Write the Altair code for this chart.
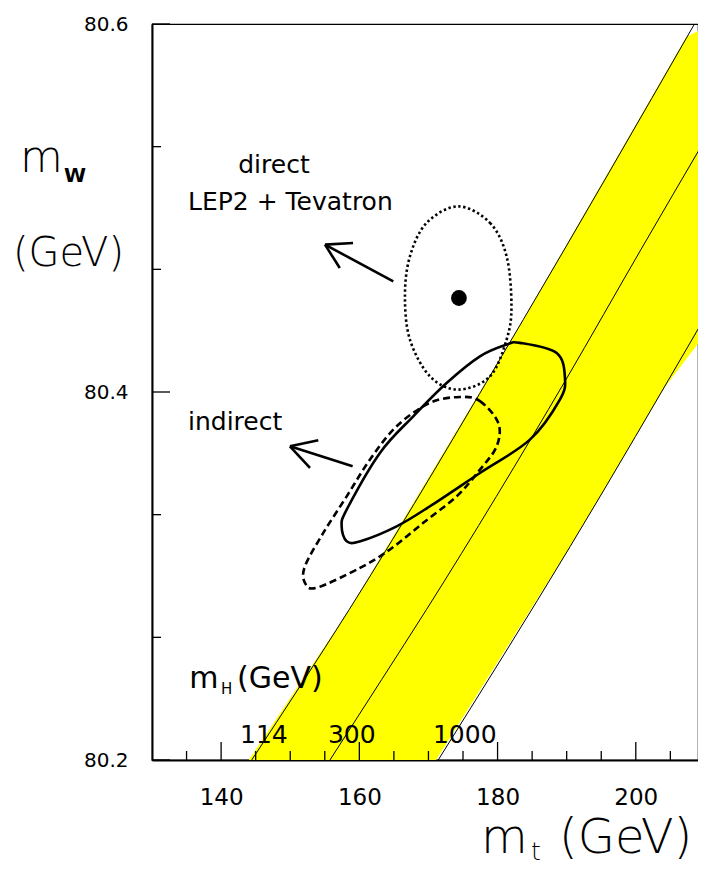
import altair as alt
import pandas as pd

# ---- data ----
# SM predictions (m_H = 114, 300, 1000 GeV): W mass vs top mass
line114_mt = [144.43, 158.54, 183.71, 208.49]
line114_mw = [80.2, 80.2818, 80.4393, 80.6]
line300_mt = [155.75, 163.23, 169.72, 189.89, 200.74, 210.0]
line300_mw = [80.2, 80.2437, 80.2818, 80.4067, 80.4774, 80.537]
line1000_mt = [171.41, 190.5, 209.4]
line1000_mw = [80.2, 80.316, 80.4367]

# yellow band outline
band_mt = [144.0, 158.54, 183.71, 207.3, 210.0, 210.0, 204.11, 190.5, 171.1]
band_mw = [80.2, 80.2818, 80.4393, 80.593, 80.598, 80.4312, 80.4022, 80.316, 80.2]

# contours
solid_mt = [183.24, 188.55, 189.75, 189.02, 184.68, 177.45, 170.22, 165.40, 160.15, 158.17,
            157.44, 158.17, 162.98, 167.80, 172.63, 177.45, 181.31]
solid_mw = [80.4267, 80.4212, 80.4077, 80.3959, 80.3741, 80.3560, 80.3379, 80.3270, 80.3189, 80.3189,
            80.3270, 80.3361, 80.3669, 80.3868, 80.4049, 80.4194, 80.4258]
dashed_mt = [174.56, 177.45, 180.10, 179.87, 177.45, 174.08, 169.25, 164.43, 160.09, 153.83,
             152.13, 152.13, 154.78, 158.17, 161.54, 165.40, 170.22]
dashed_mw = [80.3973, 80.3950, 80.3832, 80.3705, 80.3578, 80.3433, 80.3289, 80.3144, 80.3044, 80.2936,
             80.2963, 80.3053, 80.3234, 80.3433, 80.3633, 80.3814, 80.3941]
dotted_mt = [174.31, 178.90, 181.31, 182.01, 181.31, 178.90, 174.31, 170.22, 167.32, 166.60, 167.32, 169.74]
dotted_mw = [80.5009, 80.4919, 80.4737, 80.4466, 80.4285, 80.4085, 80.4013, 80.4085, 80.4285, 80.4520,
             80.4737, 80.4919]

# direct measurement point
point_mt = [174.41]
point_mw = [80.4511]

# arrows (segments: shaft + two barbs each)
arrow_mt1 = [164.91, 155.03, 155.03, 159.03, 149.96, 149.96]
arrow_mw1 = [80.4601, 80.4801, 80.4801, 80.3596, 80.3705, 80.3705]
arrow_mt2 = [155.03, 159.09, 157.17, 149.96, 154.06, 152.86]
arrow_mw2 = [80.4801, 80.4810, 80.4674, 80.3705, 80.3738, 80.3588]

x_label_values = [140, 160, 180, 200]
x_minor_ticks = [135, 145, 150, 155, 165, 170, 175, 185, 190, 195, 205]
y_label_values = [80.2, 80.4, 80.6]
y_minor_ticks = [round(80.2 + k * 0.4 / 6, 5) for k in (1, 2, 4, 5)]

mh_labels = ["114", "300", "1000"]

FONT = "DejaVu Sans"

xs = alt.Scale(domain=[130, 209.0], nice=False, zero=False)
ys = alt.Scale(domain=[80.2, 80.6], nice=False, zero=False)
xax = alt.Axis(values=x_label_values, format="d", ticks=False, tickSize=0, labelPadding=26,
               labelFontSize=23, labelFont=FONT, labelColor="black", domainColor="black",
               domainWidth=2, grid=False)
yax = alt.Axis(values=y_label_values, format=".1f", ticks=False, tickSize=0, labelPadding=24,
               labelFontSize=20, labelFont=FONT, labelColor="black", domainColor="black",
               domainWidth=2, grid=False)


def X(f="mt"):
    return alt.X(f"{f}:Q", scale=xs, axis=xax, title=None)


def Y(f="mw"):
    return alt.Y(f"{f}:Q", scale=ys, axis=yax, title=None)


def path_df(mt, mw):
    return pd.DataFrame({"mt": mt, "mw": mw, "i": list(range(len(mt)))})


band = alt.Chart(path_df(band_mt, band_mw)).mark_line(
    interpolate="linear-closed", fill="#ffff00", strokeWidth=0, clip=True
).encode(x=X(), y=Y(), order="i:Q")

thin = []
for mt, mw in [(line114_mt, line114_mw), (line300_mt, line300_mw), (line1000_mt, line1000_mw)]:
    thin.append(alt.Chart(path_df(mt, mw)).mark_line(
        color="black", strokeWidth=1, clip=True, interpolate="monotone"
    ).encode(x=X(), y=Y(), order="i:Q"))

solid = alt.Chart(path_df(solid_mt, solid_mw)).mark_line(
    interpolate="cardinal-closed", color="black", strokeWidth=2.6, clip=True
).encode(x=X(), y=Y(), order="i:Q")
dashed = alt.Chart(path_df(dashed_mt, dashed_mw)).mark_line(
    interpolate="cardinal-closed", color="black", strokeWidth=2.6, strokeDash=[7, 4], clip=True
).encode(x=X(), y=Y(), order="i:Q")
dotted = alt.Chart(path_df(dotted_mt, dotted_mw)).mark_line(
    interpolate="cardinal-closed", color="black", strokeWidth=2.6, strokeDash=[2.4, 2.6], clip=True
).encode(x=X(), y=Y(), order="i:Q")

dot = alt.Chart(pd.DataFrame({"mt": point_mt, "mw": point_mw})).mark_circle(
    size=250, color="black", opacity=1
).encode(x=X(), y=Y())

arrows = alt.Chart(pd.DataFrame({"mt": arrow_mt1, "mw": arrow_mw1, "mt2": arrow_mt2, "mw2": arrow_mw2})).mark_rule(
    color="black", strokeWidth=2.6
).encode(x=X(), y=Y(), x2="mt2:Q", y2="mw2:Q")


def note(text, mt, mw, size, align="left"):
    return alt.Chart(pd.DataFrame({"mt": [mt], "mw": [mw], "t": [text]})).mark_text(
        font=FONT, fontSize=size, align=align, baseline="alphabetic", color="black"
    ).encode(x=X(), y=Y(), text="t:N")


notes = [
    note("direct", 147.65, 80.5192, 25, "center"),
    note("LEP2 + Tevatron", 135.21, 80.4991, 25),
    note("indirect", 135.21, 80.3796, 25),
    note(mh_labels[0], 142.73, 80.2095, 25),
    note(mh_labels[1], 155.46, 80.2095, 25),
    note(mh_labels[2], 170.65, 80.2095, 25),
    note("m", 135.4, 80.2394, 30),
    note("H", 140.0, 80.2356, 15),
    note("(GeV)", 142.3, 80.2394, 30),
]


def title_text(text, x, y, size, weight="normal"):
    return alt.Chart(pd.DataFrame({"t": [text]})).mark_text(
        font=FONT, fontSize=size, align="left", baseline="alphabetic", color="black", fontWeight=weight
    ).encode(x=alt.value(x), y=alt.value(y), text="t:N")


titles = [
    title_text("m", -132, 148, 44, 300),
    title_text("W", -88, 158, 20, "bold"),
    title_text("(GeV)", -139, 242, 40, 300),
    title_text("m", 329, 829, 48, 300),
    title_text("t", 379, 836, 25, 300),
    title_text("(GeV)", 407, 829, 48, 300),
]

ytick_long = alt.Chart(pd.DataFrame({"v": y_label_values})).mark_rule(color="black", strokeWidth=1.3).encode(
    y=Y("v"), x=alt.value(0), x2=alt.value(18))
ytick_short = alt.Chart(pd.DataFrame({"v": y_minor_ticks})).mark_rule(color="black", strokeWidth=1.3).encode(
    y=Y("v"), x=alt.value(0), x2=alt.value(9))
xtick_long = alt.Chart(pd.DataFrame({"v": x_label_values})).mark_rule(color="black", strokeWidth=1.3).encode(
    x=X("v"), y=alt.value(736), y2=alt.value(718))
xtick_short = alt.Chart(pd.DataFrame({"v": x_minor_ticks})).mark_rule(color="black", strokeWidth=1.3).encode(
    x=X("v"), y=alt.value(736), y2=alt.value(727))

chart = alt.layer(
    band, *thin, solid, dashed, dotted, dot, arrows, *notes, *titles,
    ytick_long, ytick_short, xtick_long, xtick_short
).properties(
    width=546, height=736,
    padding={"left": 144, "top": 16, "right": 0, "bottom": 106},
    autosize=alt.AutoSizeParams(type="none"),
    background="white",
).configure_view(stroke="black", strokeWidth=1.2)

chart.save("out.html", embed_options={"renderer": "svg", "actions": False})
